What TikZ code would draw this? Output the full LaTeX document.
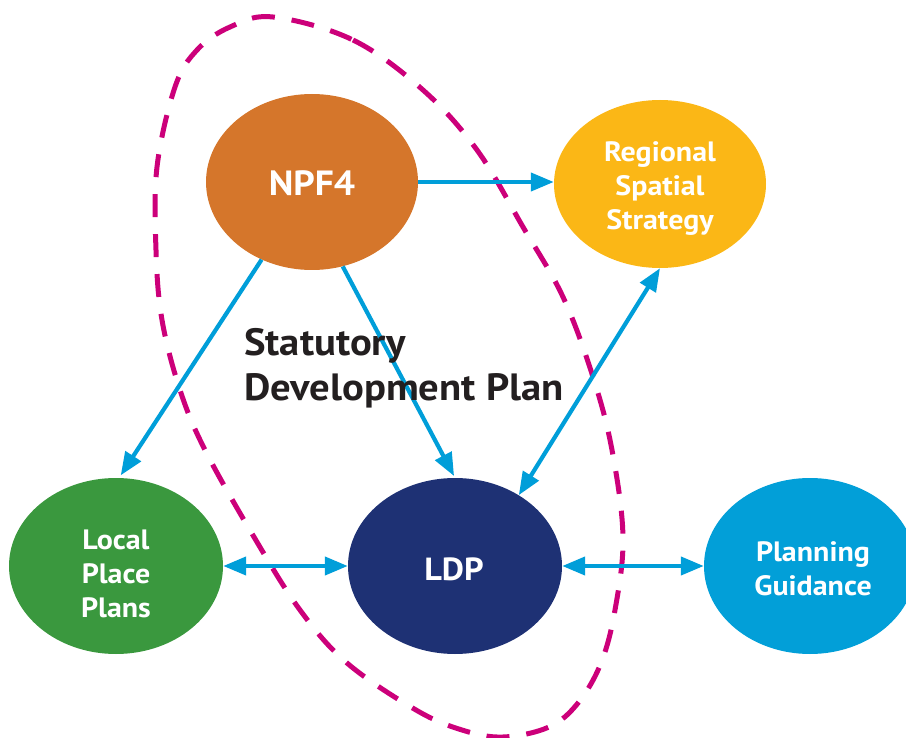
\documentclass[tikz,border=0pt]{standalone}
\usepackage{fontspec}
\setmainfont{PT Sans}[FakeStretch=1.07]
\usetikzlibrary{shapes.geometric,arrows.meta}
\definecolor{npfcol}{RGB}{213,118,43}
\definecolor{rsscol}{RGB}{251,183,22}
\definecolor{lppcol}{RGB}{58,152,62}
\definecolor{ldpcol}{RGB}{30,49,116}
\definecolor{pgcol}{RGB}{2,159,216}
\definecolor{linkblue}{RGB}{0,158,217}
\definecolor{dashmag}{RGB}{204,0,122}
\definecolor{darktext}{RGB}{35,31,32}
\begin{document}
\begin{tikzpicture}[x=1pt,y=-1pt,
  bubble/.style={ellipse, inner sep=0pt, draw=none},
  lbl/.style={anchor=base, inner sep=0pt, text=white, align=center},
  bigtext/.style={font=\fontsize{35}{42}\selectfont\bfseries},
  midtext/.style={font=\fontsize{32}{38}\selectfont\bfseries},
  smalltext/.style={font=\fontsize{28}{34}\selectfont\bfseries},
  conn/.style={draw=linkblue, line width=4.2pt, -{Triangle[length=23pt,width=18pt]}},
  biconn/.style={draw=linkblue, line width=4.2pt, {Triangle[length=23pt,width=18pt]}-{Triangle[length=23pt,width=18pt]}},
  boundary/.style={draw=dashmag, line width=5pt, dash pattern=on 23pt off 17pt}]
\useasboundingbox (0,0) rectangle (906,738);
\clip (0,0) rectangle (906,738);
% dashed boundary of the statutory development plan
\draw[boundary] plot[smooth cycle, tension=0.6] coordinates {
  (273,17) (353,40) (423,90) (477,150) (523,227) (563,297) (593,377)
  (612,450) (623,537) (615,610) (601,663) (578,703) (549,727) (503,737)
  (462,730) (416,710) (347,663) (300,610) (254,537) (205,450) (180,390)
  (162,320) (156,250) (157,167) (175,87) (197,50) (230,27)};
% bubbles
\node[bubble, fill=npfcol, minimum width=212pt, minimum height=176pt] (npf) at (312,182) {};
\node[bubble, fill=rsscol, minimum width=212pt, minimum height=168pt] (rss) at (660,184) {};
\node[bubble, fill=lppcol, minimum width=214pt, minimum height=176pt] (lpp) at (116,566) {};
\node[bubble, fill=ldpcol, minimum width=214pt, minimum height=176pt] (ldp) at (455,566) {};
\node[bubble, fill=pgcol, minimum width=212pt, minimum height=176pt] (pg) at (810,566) {};
% connectors
\draw[conn] (npf.east) -- (npf.east -| rss.west);
\draw[conn, shorten >=3pt] (npf.237) -- (lpp.88);
\draw[conn, shorten >=2pt] (npf.290) -- (ldp.90);
\draw[biconn] (ldp.48) -- (rss.270);
\draw[biconn] (lpp.east) -- (ldp.west);
\draw[biconn] (ldp.east) -- (pg.west);
% labels (anchored at the baseline of the last line)
\node[lbl, bigtext] (npfl) at (312,196) {NPF4};
\node[lbl, smalltext] (rssl) at (660,230) {Regional\\Spatial\\Strategy};
\node[lbl, smalltext] (lppl) at (116,617) {Local\\Place\\Plans};
\node[lbl, midtext] (ldpl) at (454,580) {LDP};
\node[lbl, smalltext] (pgl) at (813,595) {Planning\\Guidance};
\node[anchor=base west, inner sep=0pt, align=left, text=darktext, font=\fontsize{38}{45}\selectfont\bfseries] (sdp) at (244,400) {Statutory\\Development Plan};
\end{tikzpicture}
\end{document}
